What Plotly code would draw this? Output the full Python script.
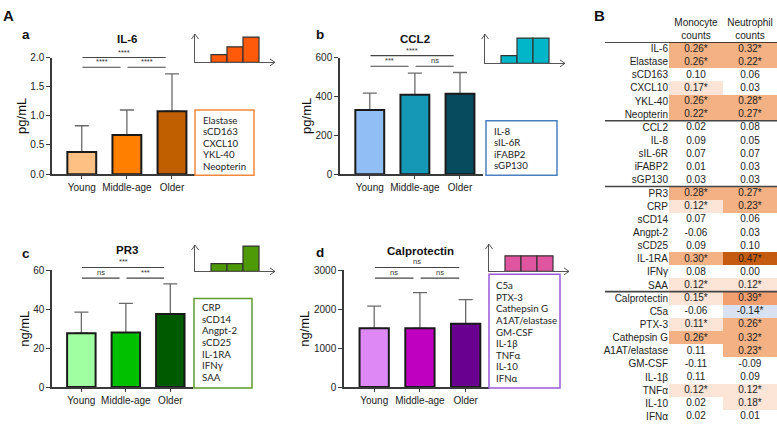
import plotly.graph_objects as go

W, H = 777, 429

# ---------------- data ----------------
groups = ["Young", "Middle-age", "Older"]

il6_mean = [0.38, 0.67, 1.08]
il6_sd = [0.45, 0.43, 0.64]
ccl2_mean = [330, 408, 413]
ccl2_sd = [87, 112, 110]
pr3_mean = [27.7, 28.0, 37.6]
pr3_sd = [10.8, 15.0, 15.5]
calpro_mean = [1510, 1510, 1630]
calpro_sd = [570, 920, 620]

# significance: (Young vs Older), (Young vs Middle-age), (Middle-age vs Older)
sig_pairs = [(0, 2), (0, 1), (1, 2)]
sig_a = ["****", "****", "****"]
sig_b = ["****", "***", "ns"]
sig_c = ["***", "ns", "***"]
sig_d = ["ns", "ns", "ns"]

# schematic trend histograms
trend_a = [1, 2, 3.25]
trend_b = [1, 3.25, 3.25]
trend_c = [1, 1, 3.25]
trend_d = [2, 2, 2]

box_a = ["Elastase", "sCD163", "CXCL10", "YKL-40", "Neopterin"]
box_b = ["IL-8", "sIL-6R", "iFABP2", "sGP130"]
box_c = ["CRP", "sCD14", "Angpt-2", "sCD25", "IL-1RA", "IFNγ", "SAA"]
box_d = ["C5a", "PTX-3", "Cathepsin G", "A1AT/elastase", "GM-CSF", "IL-1β", "TNFα", "IL-10", "IFNα"]

# table B
markers = ["IL-6", "Elastase", "sCD163", "CXCL10", "YKL-40", "Neopterin",
           "CCL2", "IL-8", "sIL-6R", "iFABP2", "sGP130",
           "PR3", "CRP", "sCD14", "Angpt-2", "sCD25", "IL-1RA", "IFNγ", "SAA",
           "Calprotectin", "C5a", "PTX-3", "Cathepsin G", "A1AT/elastase", "GM-CSF",
           "IL-1β", "TNFα", "IL-10", "IFNα"]
mono_r = [0.26, 0.26, 0.10, 0.17, 0.26, 0.22,
          0.02, 0.09, 0.07, 0.01, 0.03,
          0.28, 0.12, 0.07, -0.06, 0.09, 0.30, 0.08, 0.12,
          0.15, -0.06, 0.11, 0.26, 0.11, -0.11, 0.11, 0.12, 0.02, 0.02]
mono_sig = [1, 1, 0, 1, 1, 1,
            0, 0, 0, 0, 0,
            1, 1, 0, 0, 0, 1, 0, 1,
            1, 0, 1, 1, 0, 0, 0, 1, 0, 0]
neut_r = [0.32, 0.22, 0.06, 0.03, 0.28, 0.27,
          0.08, 0.05, 0.07, 0.03, 0.03,
          0.27, 0.23, 0.06, 0.03, 0.10, 0.47, 0.00, 0.12,
          0.39, -0.14, 0.26, 0.32, 0.23, -0.09, 0.09, 0.12, 0.18, 0.01]
neut_sig = [1, 1, 0, 0, 1, 1,
            0, 0, 0, 0, 0,
            1, 1, 0, 0, 0, 1, 0, 1,
            1, 1, 1, 1, 1, 0, 0, 1, 1, 0]
table_cols = ["Monocyte<br>counts", "Neutrophil<br>counts"]
group_breaks = [5.5, 10.5, 18.5]

# ---------------- helpers ----------------
def px(p):
    return p / W


def py(p):
    return 1 - p / H


FONT = "Liberation Sans, Arial, sans-serif"
BOXFONT = "Lato, Open Sans, sans-serif"
AXC = "#3a3a3a"

panels = [
    dict(n=1, letter="a", title="IL-6", unit="pg/mL", mean=il6_mean, sd=il6_sd,
         colors=["#ffc183", "#ff8000", "#c05f00"], ymax=2.0, tickvals=[0, 0.5, 1.0, 1.5, 2.0], fmt=".1f",
         xdom=(52, 195), ydom=(53, 173), sig=sig_a, sigy=(53, 63),
         letter_xy=(26.5, 29), title_xy=(127, 33.5),
         box=(195, 107, 254, 174), box_items=box_a, box_color="#f5883a", text_x=201, text_y0=117,
         hist=dict(n=5, x0=195, x1=275, top=29, base=58, vals=trend_a, color="#ff5a0a")),
    dict(n=2, letter="b", title="CCL2", unit="pg/mL", mean=ccl2_mean, sd=ccl2_sd,
         colors=["#90bef5", "#1598b6", "#064c5e"], ymax=600, tickvals=[0, 200, 400, 600], fmt="d",
         xdom=(340, 483), ydom=(53, 173), sig=sig_b, sigy=(51, 62),
         letter_xy=(319.5, 29), title_xy=(415, 34),
         box=(486, 118, 557, 174), box_items=box_b, box_color="#4a7fc1", text_x=492, text_y0=128.3,
         hist=dict(n=6, x0=485, x1=565, top=29, base=59, vals=trend_b, color="#00b6c8")),
    dict(n=3, letter="c", title="PR3", unit="ng/mL", mean=pr3_mean, sd=pr3_sd,
         colors=["#a0ffa0", "#00c000", "#005a00"], ymax=60, tickvals=[0, 20, 40, 60], fmt="d",
         xdom=(52, 193), ydom=(272, 392), sig=sig_c, sigy=(269, 280),
         letter_xy=(26.5, 254.3), title_xy=(127, 251.3),
         box=(194, 301, 252, 393), box_items=box_c, box_color="#5e9a2e", text_x=200, text_y0=310,
         hist=dict(n=7, x0=195, x1=275, top=246, base=273, vals=trend_c, color="#4e9a06")),
    dict(n=4, letter="d", title="Calprotectin", unit="ng/mL", mean=calpro_mean, sd=calpro_sd,
         colors=["#dd88f5", "#c000c0", "#6a0090"], ymax=3000, tickvals=[0, 1000, 2000, 3000], fmt="d",
         xdom=(344, 489), ydom=(272, 392), sig=sig_d, sigy=(269, 280),
         letter_xy=(319.5, 253.3), title_xy=(420, 252.5),
         box=(489, 276, 560, 393), box_items=box_d, box_color="#9b59d6", text_x=494, text_y0=287.3,
         hist=dict(n=8, x0=489, x1=569, top=245, base=273, vals=trend_d, color="#e055a0")),
]

fig = go.Figure()
shapes = []
annotations = []
layout = {}

for p in panels:
    n = p["n"]
    xid = "x" if n == 1 else f"x{n}"
    yid = "y" if n == 1 else f"y{n}"
    xkey = "xaxis" if n == 1 else f"xaxis{n}"
    ykey = "yaxis" if n == 1 else f"yaxis{n}"

    # error bars (drawn under the bars so only upper part shows)
    fig.add_trace(go.Bar(
        x=groups, y=p["mean"], width=0.64, xaxis=xid, yaxis=yid,
        marker=dict(color="rgba(0,0,0,0)", line=dict(width=0)),
        error_y=dict(type="data", symmetric=False, array=p["sd"], arrayminus=[0] * 3,
                     color="#6a6a6a", thickness=1.3, width=7),
        hoverinfo="skip"))
    fig.add_trace(go.Bar(
        x=groups, y=p["mean"], width=0.64, xaxis=xid, yaxis=yid,
        marker=dict(color=p["colors"], line=dict(color="#1a1a1a", width=2))))

    layout[xkey] = dict(domain=[px(p["xdom"][0]), px(p["xdom"][1])], anchor=yid,
                        type="category", range=[-0.66, 2.51],
                        showline=True, linecolor=AXC, linewidth=1.5,
                        ticks="outside", ticklen=3, tickwidth=1.2, tickcolor=AXC,
                        tickfont=dict(size=10, color="#222", family=FONT),
                        showgrid=False, zeroline=False, fixedrange=True)
    layout[ykey] = dict(domain=[py(p["ydom"][1]), py(p["ydom"][0])], anchor=xid,
                        range=[0, p["ymax"]], tickvals=p["tickvals"], tickformat=p["fmt"],
                        showline=True, linecolor=AXC, linewidth=1.5,
                        ticks="outside", ticklen=4, tickwidth=1.2, tickcolor=AXC,
                        tickfont=dict(size=10, color="#222", family=FONT),
                        title=dict(text=p["unit"], font=dict(size=13, color="#111", family=FONT), standoff=1),
                        showgrid=False, zeroline=False, fixedrange=True)

    # significance brackets
    for k, (i, j) in enumerate(sig_pairs):
        yl = p["sigy"][0] if k == 0 else p["sigy"][1]
        x0 = i + 0.015
        x1 = j - 0.14
        shapes.append(dict(type="line", xref=xid, yref="paper", x0=x0, x1=x1,
                           y0=py(yl), y1=py(yl), line=dict(color="#444", width=1.2)))
        annotations.append(dict(text=p["sig"][k], xref=xid, yref="paper", x=(x0 + x1) / 2,
                                y=py(yl), xanchor="center", yanchor="bottom", showarrow=False,
                                font=dict(size=7.5, color="#333", family=FONT), borderpad=0))

    # letter and title
    annotations.append(dict(text=f"<b>{p['letter']}</b>", xref="paper", yref="paper",
                            x=px(p["letter_xy"][0]), y=py(p["letter_xy"][1]),
                            xanchor="center", yanchor="middle", showarrow=False,
                            font=dict(size=13.5, color="#111", family=FONT)))
    annotations.append(dict(text=f"<b>{p['title']}</b>", xref="paper", yref="paper",
                            x=px(p["title_xy"][0]), y=py(p["title_xy"][1]),
                            xanchor="center", yanchor="middle", showarrow=False,
                            font=dict(size=11.5, color="#111", family=FONT)))

    # marker box
    bx0, by0, bx1, by1 = p["box"]
    shapes.append(dict(type="rect", xref="paper", yref="paper", x0=px(bx0), x1=px(bx1),
                       y0=py(by1), y1=py(by0), line=dict(color=p["box_color"], width=1.5),
                       fillcolor="rgba(0,0,0,0)"))
    for i, item in enumerate(p["box_items"]):
        annotations.append(dict(text=item, xref="paper", yref="paper",
                                x=px(p["text_x"]), y=py(p["text_y0"] + i * 11.9),
                                xanchor="left", yanchor="middle", showarrow=False,
                                font=dict(size=9.7, color="#222", family=BOXFONT)))

    # trend histogram
    h = p["hist"]
    hn = h["n"]
    hx, hy = f"x{hn}", f"y{hn}"
    fig.add_trace(go.Bar(x=[1.5, 2.5, 3.5], y=h["vals"], width=1, xaxis=hx, yaxis=hy,
                         marker=dict(color=h["color"], line=dict(color="#333", width=1.2)),
                         hoverinfo="skip"))
    units_h = (h["base"] - h["top"]) / 8.0
    layout[f"xaxis{hn}"] = dict(domain=[px(h["x0"]), px(h["x1"])], anchor=hy, range=[0, 5],
                                showline=True, linecolor="#555", linewidth=1,
                                showticklabels=False, ticks="", showgrid=False, zeroline=False,
                                fixedrange=True)
    layout[f"yaxis{hn}"] = dict(domain=[py(h["base"]), py(h["top"])], anchor=hx, range=[0, units_h],
                                showline=True, linecolor="#555", linewidth=1,
                                showticklabels=False, ticks="", showgrid=False, zeroline=False,
                                fixedrange=True)
    # arrow heads
    ax0, atop, ax1, abase = h["x0"], h["top"], h["x1"], h["base"]
    shapes.append(dict(type="path", xref="paper", yref="paper",
                       path=f"M{px(ax0 - 3.5)},{py(atop + 5)} L{px(ax0)},{py(atop)} L{px(ax0 + 3.5)},{py(atop + 5)}",
                       line=dict(color="#555", width=1)))
    shapes.append(dict(type="path", xref="paper", yref="paper",
                       path=f"M{px(ax1 - 5)},{py(abase - 3.5)} L{px(ax1)},{py(abase)} L{px(ax1 - 5)},{py(abase + 3.5)}",
                       line=dict(color="#555", width=1)))

# ---------------- table B ----------------
zmin, zmax = -0.14, 0.47
stops = [(-0.14, "#d9e2f3"), (0.0, "#ffffff"), (0.05, "#ffffff"), (0.10, "#fce4d6"),
         (0.20, "#fce4d6"), (0.21, "#f4b183"), (0.33, "#f4b183"), (0.38, "#f2a06f"),
         (0.40, "#f2a06f"), (0.46, "#c55a11"), (0.47, "#c55a11")]
cscale = [[(v - zmin) / (zmax - zmin), c] for v, c in stops]

z = [[m if ms else 0, nv if ns else 0] for m, ms, nv, ns in zip(mono_r, mono_sig, neut_r, neut_sig)]
txt = [[f"{m:.2f}" + ("*" if ms else ""), f"{nv:.2f}" + ("*" if ns else "")]
       for m, ms, nv, ns in zip(mono_r, mono_sig, neut_r, neut_sig)]

fig.add_trace(go.Heatmap(z=z, x=table_cols, y=markers, text=txt, texttemplate="%{text}",
                         textfont=dict(size=10, color="#222", family=FONT),
                         colorscale=cscale, zmin=zmin, zmax=zmax, showscale=False,
                         xaxis="x9", yaxis="y9", hoverinfo="skip"))
layout["xaxis9"] = dict(domain=[px(669), px(777)], anchor="y9", side="top", type="category",
                        ticks="", showline=False, showgrid=False, zeroline=False,
                        tickfont=dict(size=10, color="#222", family=FONT), fixedrange=True)
layout["yaxis9"] = dict(domain=[py(429), py(37)], anchor="x9", type="category",
                        range=[len(markers) - 0.5, -0.5],
                        ticks="", showline=False, showgrid=False, zeroline=False,
                        tickfont=dict(size=10, color="#222", family=FONT), fixedrange=True)
shapes.append(dict(type="line", xref="paper", yref="y9", x0=px(605), x1=1, y0=-0.5, y1=-0.5,
                   line=dict(color="#111", width=1.6)))
for b in group_breaks:
    shapes.append(dict(type="line", xref="paper", yref="y9", x0=px(605), x1=1, y0=b, y1=b,
                       line=dict(color="#444", width=1.6)))

# big panel letters
annotations.append(dict(text="<b>A</b>", xref="paper", yref="paper", x=px(8.5), y=py(10),
                        xanchor="center", yanchor="middle", showarrow=False,
                        font=dict(size=15, color="#111", family=FONT)))
annotations.append(dict(text="<b>B</b>", xref="paper", yref="paper", x=px(599), y=py(10),
                        xanchor="center", yanchor="middle", showarrow=False,
                        font=dict(size=15, color="#111", family=FONT)))

fig.update_layout(width=W, height=H, margin=dict(l=0, r=0, t=0, b=0),
                  paper_bgcolor="white", plot_bgcolor="rgba(0,0,0,0)",
                  showlegend=False, barmode="overlay",
                  font=dict(family=FONT, color="#222"),
                  shapes=shapes, annotations=annotations, **layout)

fig.write_html("out.html", config=dict(displayModeBar=False),
               post_script="document.body.style.margin='0';document.body.style.overflow='hidden';")
